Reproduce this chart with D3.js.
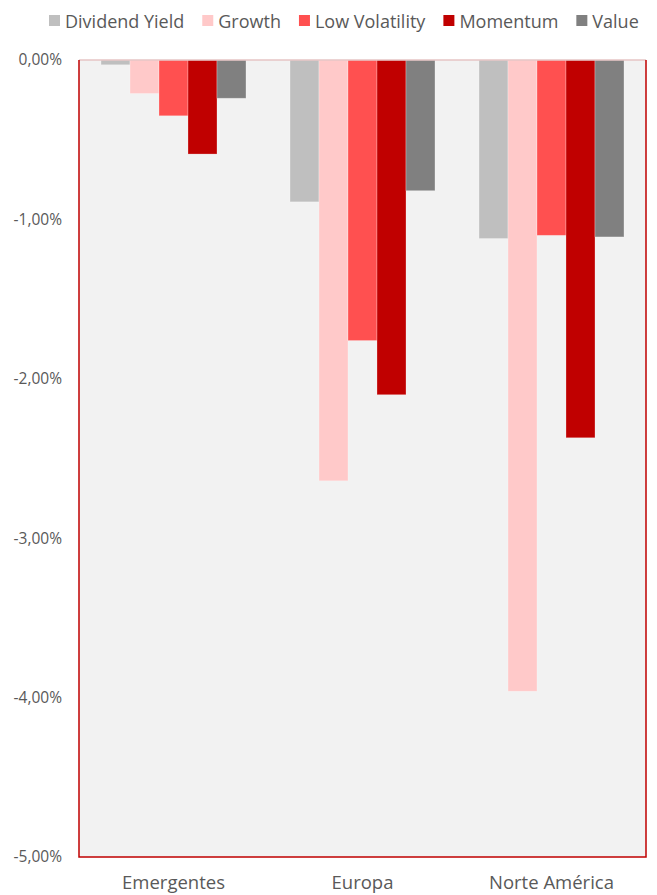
<!DOCTYPE html>
<html>
<head>
<meta charset="utf-8">
<script src="https://cdn.jsdelivr.net/npm/d3@7"></script>
<style>
  body { margin: 0; background: #fff; }
  text { font-family: "Open Sans", sans-serif; fill: #595959; }
</style>
</head>
<body>
<svg id="chart" width="657" height="895"></svg>
<script>
// data
const regions = ["Emergentes", "Europa", "Norte América"];
const seriesNames = ["Dividend Yield", "Growth", "Low Volatility", "Momentum", "Value"];
const seriesColors = ["#bfbfbf", "#ffc9c9", "#ff5050", "#c00000", "#808080"];
const dividendYield = [-0.0003, -0.0089, -0.0112];
const growth = [-0.0021, -0.0264, -0.0396];
const lowVolatility = [-0.0035, -0.0176, -0.0110];
const momentum = [-0.0059, -0.0210, -0.0237];
const value = [-0.0024, -0.0082, -0.0111];
const yTicks = [0, -0.01, -0.02, -0.03, -0.04, -0.05];

const allSeries = [dividendYield, growth, lowVolatility, momentum, value];

const svg = d3.select("#chart");
const plotL = 79, plotR = 646, plotT = 60, plotB = 857;

const locale = d3.formatLocale({decimal: ",", thousands: ".", grouping: [3], currency: ["", "€"], minus: "-"});
const fmt = locale.format(".2%");

const x0 = d3.scaleBand().domain(regions).range([plotL, plotR]).paddingInner(0.233).paddingOuter(0.1165);
const x1 = d3.scaleBand().domain(seriesNames).range([0, x0.bandwidth()]);
const y = d3.scaleLinear().domain([-0.05, 0]).range([plotB, plotT]);

// plot background
svg.append("rect")
  .attr("x", plotL).attr("y", plotT)
  .attr("width", plotR - plotL).attr("height", plotB - plotT)
  .attr("fill", "#f2f2f2");

// bars
regions.forEach(function(r, i) {
  const g = svg.append("g").attr("transform", "translate(" + x0(r) + ",0)");
  seriesNames.forEach(function(s, j) {
    const v = allSeries[j][i];
    g.append("rect")
      .attr("x", x1(s))
      .attr("y", y(0))
      .attr("width", x1.bandwidth())
      .attr("height", y(v) - y(0))
      .attr("fill", seriesColors[j])
      .attr("stroke", "#ffffff")
      .attr("stroke-opacity", 0.35)
      .attr("stroke-width", 0.75);
  });
});

// frame: light zero line on top, red on the other sides
svg.append("line").attr("x1", plotL).attr("x2", plotR).attr("y1", plotT).attr("y2", plotT)
  .attr("stroke", "#e6c4c4").attr("stroke-width", 1.5);
svg.append("path")
  .attr("d", "M" + plotL + "," + plotT + "V" + plotB + "H" + plotR + "V" + plotT)
  .attr("fill", "none").attr("stroke", "#c00000").attr("stroke-width", 1.5);

// y axis labels
const yAxis = d3.axisLeft(y).tickValues(yTicks).tickFormat(fmt).tickSize(0).tickPadding(17);
const ya = svg.append("g").attr("transform", "translate(" + plotL + ",0)").call(yAxis);
ya.select(".domain").remove();
ya.selectAll("text").style("font-family", "Open Sans, sans-serif").style("font-size", "15.5px").attr("fill", "#595959");

// x axis labels
const xAxis = d3.axisBottom(x0).tickSize(0).tickPadding(19);
const xa = svg.append("g").attr("transform", "translate(0," + plotB + ")").call(xAxis);
xa.select(".domain").remove();
xa.selectAll("text").style("font-family", "Open Sans, sans-serif").style("font-size", "18.5px").attr("fill", "#595959");

// legend
let lx = 49;
seriesNames.forEach(function(s, j) {
  svg.append("rect").attr("x", lx).attr("y", 15).attr("width", 11).attr("height", 11).attr("fill", seriesColors[j]);
  const t = svg.append("text").attr("x", lx + 16).attr("y", 27.5).style("font-size", "18px").text(s);
  lx += 16 + t.node().getComputedTextLength() + 18;
});
</script>
</body>
</html>
